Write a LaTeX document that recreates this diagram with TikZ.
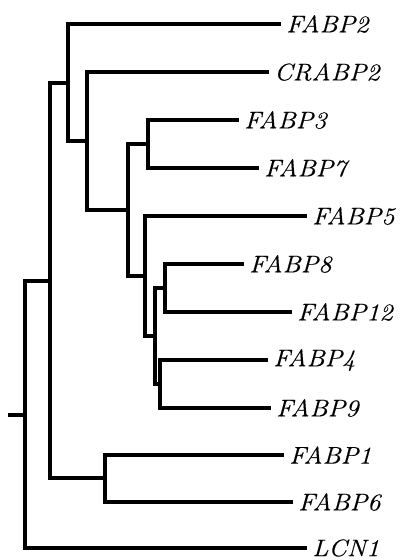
\documentclass[tikz,border=0pt]{standalone}
\usepackage{fontspec}
\setmainfont{Latin Modern Roman}
\newfontfamily\labfont[FakeBold=0.3]{Latin Modern Roman}
\usetikzlibrary{positioning}
\begin{document}
\begin{tikzpicture}[x=1pt,y=-1pt,
  branch/.style={line width=3.4pt,line join=miter,line cap=rect},
  lab/.style={inner sep=0pt,font=\labfont\fontsize{24}{26}\selectfont\itshape}]
\useasboundingbox (0,0) rectangle (402,560);
% leaf ends
\coordinate (L1) at (279,24);
\coordinate (L2) at (267,72);
\coordinate (L3) at (237,120);
\coordinate (L4) at (257,168);
\coordinate (L5) at (305,216);
\coordinate (L6) at (242,264);
\coordinate (L7) at (290,312);
\coordinate (L8) at (266,360);
\coordinate (L9) at (269,408);
\coordinate (L10) at (282,455);
\coordinate (L11) at (291,502);
\coordinate (L12) at (305,548);
% internal nodes
\coordinate (n37) at (148,144);
\coordinate (n812) at (165,288);
\coordinate (n49) at (160,384);
\coordinate (n84) at (155,336);
\coordinate (n5) at (145,276);
\coordinate (nC) at (128,210);
\coordinate (nB) at (87,141);
\coordinate (nA) at (68,83);
\coordinate (n16) at (105,478);
\coordinate (nD) at (50,281);
\coordinate (root) at (25,415);
\coordinate (stub) at (10,415);
% labels
\node[lab,right=7pt of L1] (t1) {\scalebox{1.1}[1]{FABP2}};
\node[lab,right=7pt of L2] (t2) {\scalebox{1.1}[1]{CRABP2}};
\node[lab,right=7pt of L3] (t3) {\scalebox{1.1}[1]{FABP3}};
\node[lab,right=7pt of L4] (t4) {\scalebox{1.1}[1]{FABP7}};
\node[lab,right=7pt of L5] (t5) {\scalebox{1.1}[1]{FABP5}};
\node[lab,right=7pt of L6] (t6) {\scalebox{1.1}[1]{FABP8}};
\node[lab,right=7pt of L7] (t7) {\scalebox{1.1}[1]{FABP12}};
\node[lab,right=7pt of L8] (t8) {\scalebox{1.1}[1]{FABP4}};
\node[lab,right=7pt of L9] (t9) {\scalebox{1.1}[1]{FABP9}};
\node[lab,right=7pt of L10] (t10) {\scalebox{1.1}[1]{FABP1}};
\node[lab,right=7pt of L11] (t11) {\scalebox{1.1}[1]{FABP6}};
\node[lab,right=7pt of L12] (t12) {\scalebox{1.1}[1]{LCN1}};
% branches
\draw[branch] (L3) -| (n37);
\draw[branch] (L4) -| (n37);
\draw[branch] (L6) -| (n812);
\draw[branch] (L7) -| (n812);
\draw[branch] (L8) -| (n49);
\draw[branch] (L9) -| (n49);
\draw[branch] (n812) -| (n84);
\draw[branch] (n49) -| (n84);
\draw[branch] (L5) -| (n5);
\draw[branch] (n84) -| (n5);
\draw[branch] (n37) -| (nC);
\draw[branch] (n5) -| (nC);
\draw[branch] (L2) -| (nB);
\draw[branch] (nC) -| (nB);
\draw[branch] (L1) -| (nA);
\draw[branch] (nB) -| (nA);
\draw[branch] (L10) -| (n16);
\draw[branch] (L11) -| (n16);
\draw[branch] (nA) -| (nD);
\draw[branch] (n16) -| (nD);
\draw[branch] (nD) -| (root);
\draw[branch] (L12) -| (root);
\draw[branch] (root) -- (stub);
\end{tikzpicture}
\end{document}
